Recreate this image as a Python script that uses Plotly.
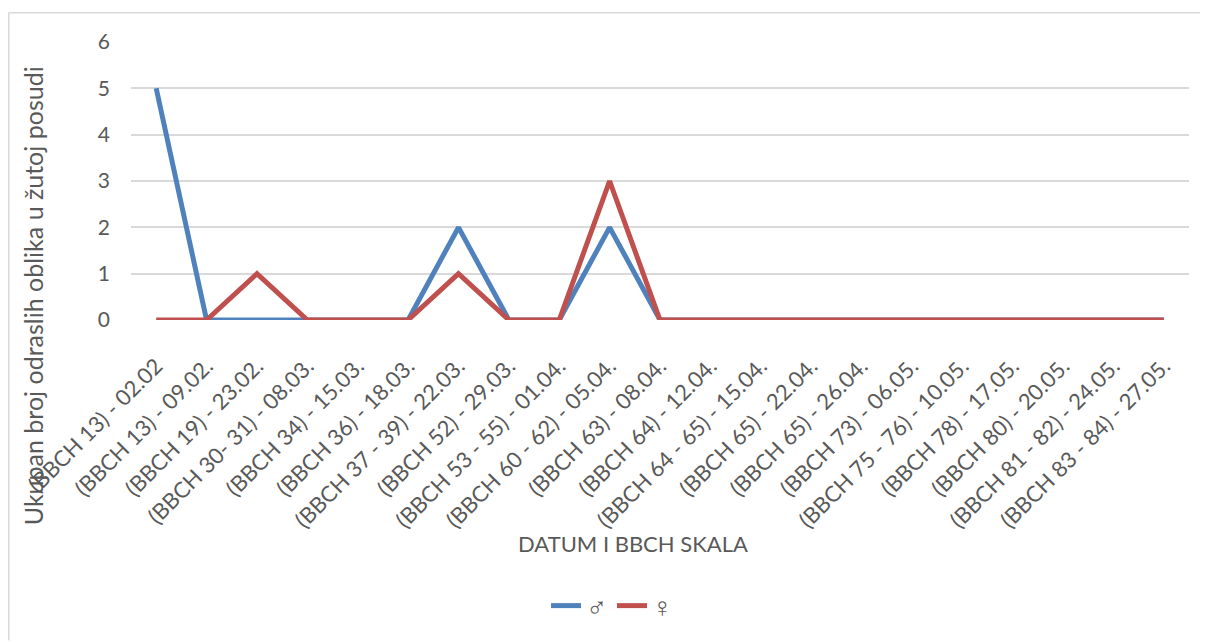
import plotly.graph_objects as go

# Categories (date + BBCH stage)
categories = [
    "(BBCH 13) - 02.02", "(BBCH 13) - 09.02.", "(BBCH 19) - 23.02.",
    "(BBCH 30- 31) - 08.03.", "(BBCH 34) - 15.03.", "(BBCH 36) - 18.03.",
    "(BBCH 37 - 39) - 22.03.", "(BBCH 52) - 29.03.", "(BBCH 53 - 55) - 01.04.",
    "(BBCH 60 - 62) - 05.04.", "(BBCH 63) - 08.04.", "(BBCH 64) - 12.04.",
    "(BBCH 64 - 65) - 15.04.", "(BBCH 65) - 22.04.", "(BBCH 65) - 26.04.",
    "(BBCH 73) - 06.05.", "(BBCH 75 - 76) - 10.05.", "(BBCH 78) - 17.05.",
    "(BBCH 80) - 20.05.", "(BBCH 81 - 82) - 24.05.", "(BBCH 83 - 84) - 27.05.",
]
male = [5, 0, 0, 0, 0, 0, 2, 0, 0, 2, 0, 0, 0, 0, 0, 0, 0, 0, 0, 0, 0]
female = [0, 0, 1, 0, 0, 0, 1, 0, 0, 3, 0, 0, 0, 0, 0, 0, 0, 0, 0, 0, 0]
y_ticks = [0, 1, 2, 3, 4, 5, 6]

FONT = "Lato"
GREY = "#595959"
# page body has an 8px margin, so the figure is drawn 8px in
W, H = 1200, 634
L, R, T, B = 123, 19, 34, 319
pw, ph = W - L - R, H - T - B


def px_x(x):
    return (x - L) / pw


def px_y(y):
    return (H - B - y) / ph


x_idx = list(range(len(categories)))

fig = go.Figure()
fig.add_trace(go.Scatter(
    x=x_idx, y=male, mode="lines", name="♂",
    line=dict(color="#4f81bd", width=5),
))
fig.add_trace(go.Scatter(
    x=x_idx, y=female, mode="lines", name="♀",
    line=dict(color="#c0504d", width=5),
))

# chart border: only top and left edges are visible in the original
fig.add_shape(type="line", xref="paper", yref="paper",
              x0=px_x(0.5), x1=px_x(W + 5), y0=px_y(4.5), y1=px_y(4.5),
              line=dict(color="#d9d9d9", width=1.5), layer="below")
fig.add_shape(type="line", xref="paper", yref="paper",
              x0=px_x(0.8), x1=px_x(0.8), y0=px_y(4.5), y1=px_y(H + 5),
              line=dict(color="#d9d9d9", width=1.5), layer="below")

fig.add_annotation(
    text="Ukupan broj odraslih oblika u žutoj posudi",
    xref="paper", yref="paper", x=px_x(25), y=px_y(291),
    xanchor="center", yanchor="middle",
    textangle=-90, showarrow=False,
    font=dict(family=FONT, size=25, color=GREY),
)
fig.add_annotation(
    text="DATUM I BBCH SKALA",
    xref="paper", yref="paper", x=px_x(625), y=px_y(541),
    xanchor="center", yanchor="middle", showarrow=False,
    font=dict(family=FONT, size=22, color=GREY),
)

fig.update_layout(
    width=W, height=H,
    margin=dict(l=L, r=R, t=T, b=B),
    paper_bgcolor="white", plot_bgcolor="white",
    font=dict(family=FONT, size=18, color=GREY),
    showlegend=True,
    legend=dict(
        orientation="h", x=px_x(604), xanchor="center",
        y=px_y(604), yanchor="middle",
        font=dict(family=FONT, size=28, color=GREY),
    ),
    xaxis=dict(
        tickmode="array", tickvals=x_idx, ticktext=categories,
        tickangle=-45, range=[-0.5, len(categories) - 0.5],
        showgrid=False, zeroline=False, showline=False,
        ticks="", automargin=False, ticklabelstandoff=28,
        tickfont=dict(family=FONT, size=22, color=GREY),
    ),
    yaxis=dict(
        range=[0, 6], tickvals=y_ticks,
        showgrid=True, gridcolor="#d9d9d9", gridwidth=1.5,
        zeroline=False, showline=False, ticks="",
        automargin=False, ticklabelstandoff=20,
        tickfont=dict(family=FONT, size=21, color=GREY),
    ),
)

fig.write_html("out.html")
